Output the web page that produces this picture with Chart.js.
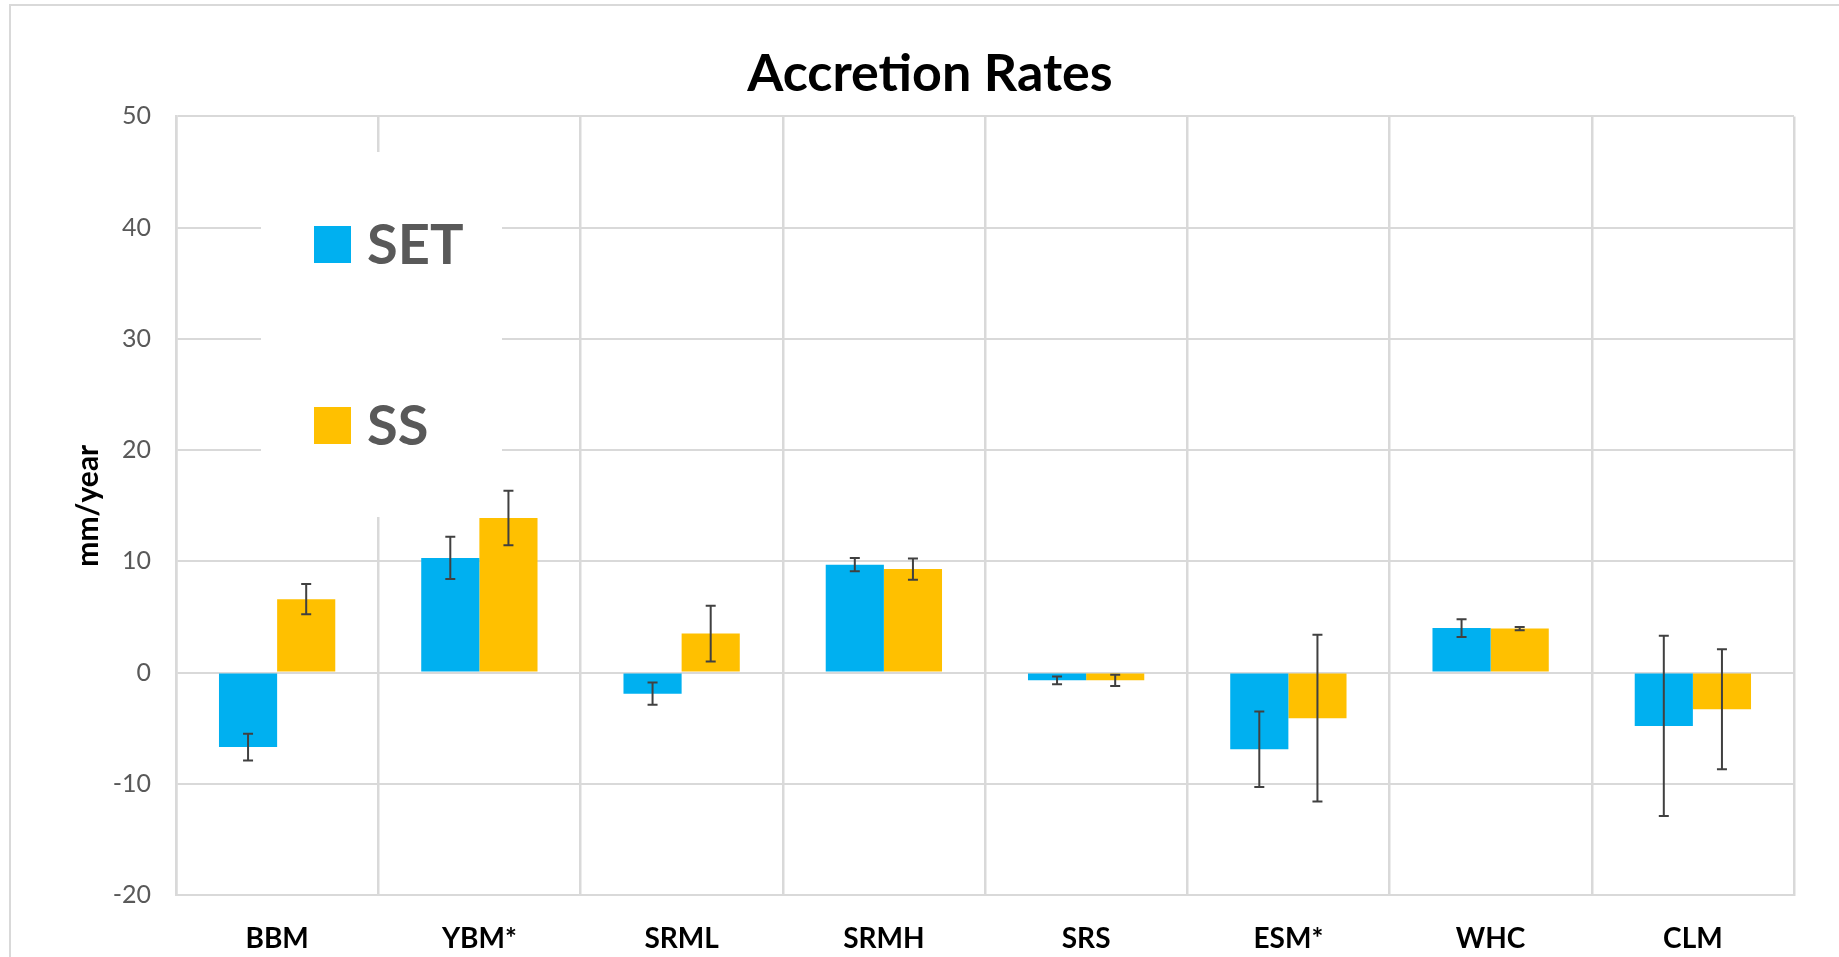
<!DOCTYPE html>
<html>
<head>
<meta charset="utf-8">
<script src="https://cdn.jsdelivr.net/npm/chart.js@4.4.0/dist/chart.umd.min.js"></script>
<style>
  body { margin: 0; background: #fff; }
  #wrap { position: relative; width: 1839px; height: 957px; overflow: hidden; }
  #frame { position: absolute; left: 9px; top: 4px; width: 2000px; height: 2000px;
           border-left: 2px solid #d9d9d9; border-top: 2px solid #d9d9d9; pointer-events: none; }
  canvas { position: absolute; left: 0; top: 0; }
</style>
</head>
<body>
<div id="wrap">
  <canvas id="accretionChart" width="1839" height="957"></canvas>
  <div id="frame"></div>
</div>
<script>
// --- DATA (mm/year) ---
const sites = ['BBM', 'YBM*', 'SRML', 'SRMH', 'SRS', 'ESM*', 'WHC', 'CLM'];
const setRates = [-6.7, 10.3, -1.9, 9.7, -0.7, -6.9, 4.0, -4.8];
const setErrors = [1.2, 1.9, 1.0, 0.6, 0.35, 3.4, 0.8, 8.1];
const ssRates = [6.6, 13.9, 3.5, 9.3, -0.7, -4.1, 3.95, -3.3];
const ssErrors = [1.35, 2.45, 2.5, 0.95, 0.5, 7.5, 0.15, 5.4];
const yMin = -20;
const yMax = 50;
const yStep = 10;

const FONT = "Lato, 'Open Sans', sans-serif";
const GRID = '#d9d9d9';

// Error bars: +/- whiskers drawn on top of each bar through the y scale.
const errorBars = {
    id: 'errorBars',
    afterDatasetsDraw(chart) {
        const ctx = chart.ctx;
        const y = chart.scales.y;
        ctx.save();
        ctx.strokeStyle = '#404040';
        ctx.lineWidth = 2;
        chart.data.datasets.forEach((ds, i) => {
            const meta = chart.getDatasetMeta(i);
            meta.data.forEach((bar, j) => {
                const v = ds.data[j];
                const e = ds.errors[j];
                const top = y.getPixelForValue(v + e);
                const bot = y.getPixelForValue(v - e);
                ctx.beginPath();
                ctx.moveTo(bar.x, top); ctx.lineTo(bar.x, bot);
                ctx.moveTo(bar.x - 5, top); ctx.lineTo(bar.x + 5, top);
                ctx.moveTo(bar.x - 5, bot); ctx.lineTo(bar.x + 5, bot);
                ctx.stroke();
            });
        });
        ctx.restore();
    }
};

// Excel-style legend: white box sitting over the grid, big stacked entries.
const boxLegend = {
    id: 'boxLegend',
    beforeDatasetsDraw(chart) {
        const ctx = chart.ctx;
        ctx.save();
        ctx.fillStyle = '#fff';
        ctx.fillRect(261, 152, 241, 365);
        ctx.font = `bold 56px ${FONT}`;
        ctx.textBaseline = 'middle';
        const rows = [244, 425];
        chart.data.datasets.forEach((ds, i) => {
            ctx.fillStyle = ds.backgroundColor;
            ctx.fillRect(314, rows[i] - 18, 37, 37);
            ctx.fillStyle = '#595959';
            ctx.fillText(ds.label, 367, rows[i] + 2);
        });
        ctx.restore();
    }
};

new Chart(document.getElementById('accretionChart'), {
    type: 'bar',
    data: {
        labels: sites,
        datasets: [
            { label: 'SET', data: setRates, errors: setErrors, backgroundColor: '#00b0f0',
              categoryPercentage: 0.575, barPercentage: 1.0 },
            { label: 'SS', data: ssRates, errors: ssErrors, backgroundColor: '#ffc000',
              categoryPercentage: 0.575, barPercentage: 1.0 },
        ],
    },
    options: {
        responsive: false,
        devicePixelRatio: 1,
        animation: false,
        // left padding keeps the title centred where the original sits
        layout: { padding: { left: 66, right: 45, top: 0, bottom: 0 } },
        plugins: {
            legend: { display: false },
            tooltip: { enabled: false },
            title: {
                display: true,
                text: 'Accretion Rates',
                color: '#000',
                font: { family: FONT, size: 52, weight: 'bold' },
                padding: { top: 43, bottom: 11 },
            },
        },
        scales: {
            x: {
                grid: { color: GRID, lineWidth: 2.5, offset: true, drawTicks: false },
                border: { display: true, color: GRID, width: 2 },
                ticks: { color: '#000', padding: 27, font: { family: FONT, size: 28, weight: 'bold' } },
                afterFit: (s) => { s.height = 62; },
            },
            y: {
                min: yMin,
                max: yMax,
                ticks: { stepSize: yStep, color: '#595959', padding: 25, font: { family: FONT, size: 25 } },
                grid: { color: GRID, lineWidth: 2, drawTicks: false },
                border: { display: true, color: GRID, width: 2.5 },
                title: {
                    display: true,
                    text: 'mm/year',
                    color: '#000',
                    font: { family: FONT, size: 30, weight: 'bold' },
                    padding: { top: 4, bottom: 0 },
                },
                afterFit: (s) => { s.width = 110; },
            },
        },
    },
    plugins: [errorBars, boxLegend],
});
</script>
</body>
</html>
